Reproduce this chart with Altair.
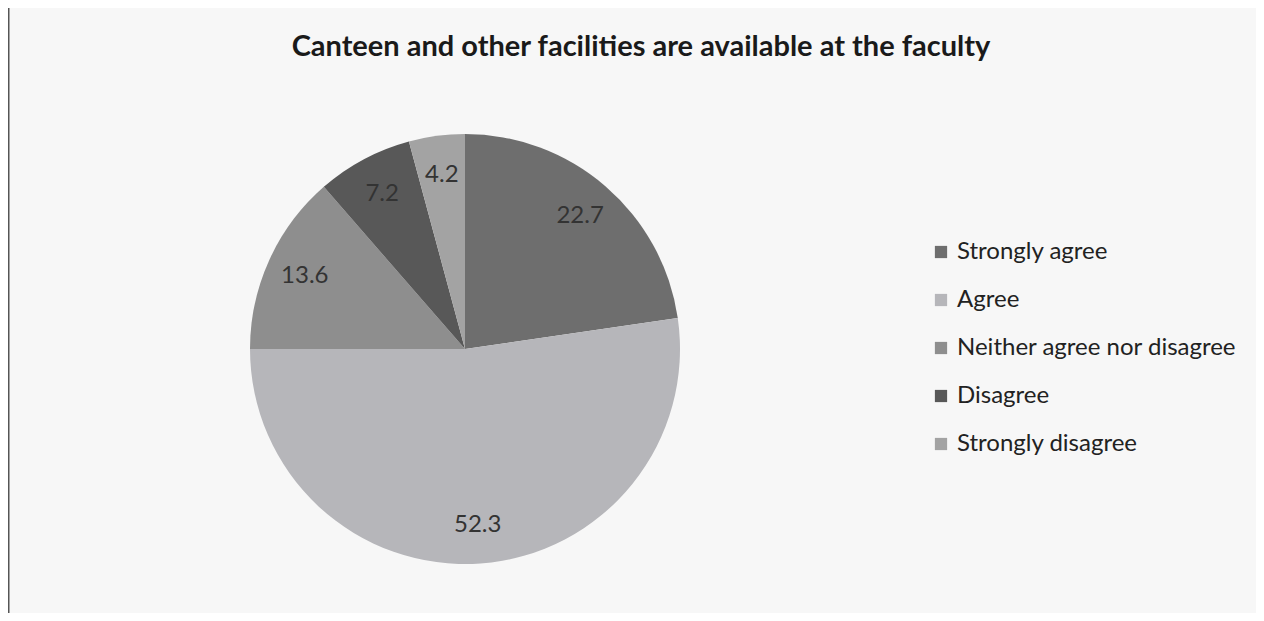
import altair as alt
import pandas as pd

categories = ["Strongly agree", "Agree", "Neither agree nor disagree", "Disagree", "Strongly disagree"]
values = [22.7, 52.3, 13.6, 7.2, 4.2]
colors = ["#6e6e6e", "#b6b6ba", "#8e8e8e", "#585858", "#a3a3a3"]
title_text = "Canteen and other facilities are available at the faculty"

df = pd.DataFrame({"category": categories, "value": values, "order": list(range(len(categories)))})
df["label"] = df["value"].map(lambda v: f"{v:.1f}")

CX, CY = 457, 341
FONT = "Lato"

base = alt.Chart(df).encode(
    theta=alt.Theta("value:Q", stack=True),
    order=alt.Order("order:Q"),
)

arcs = base.mark_arc(outerRadius=215).encode(
    color=alt.Color(
        "category:N",
        scale=alt.Scale(domain=categories, range=colors),
        sort=categories,
        legend=alt.Legend(
            title=None,
            orient="none",
            legendX=921,
            legendY=232,
            symbolType="square",
            symbolSize=150,
            symbolStrokeWidth=0,
            labelFontSize=24,
            labelFont=FONT,
            labelColor="#222222",
            rowPadding=24,
            labelOffset=4,
            labelLimit=400,
        ),
    ),
    x=alt.value(CX),
    y=alt.value(CY),
)

labels = base.mark_text(radius=176, fontSize=24, font=FONT, color="#333333").encode(
    text="label:N",
    x=alt.value(CX),
    y=alt.value(CY),
)

title_df = pd.DataFrame({"t": [title_text]})
title = alt.Chart(title_df).mark_text(
    fontSize=29, fontWeight="bold", font=FONT, color="#1a1a1a", align="center", baseline="middle"
).encode(text="t:N", x=alt.value(633), y=alt.value(39))

border = alt.Chart(title_df).mark_rule(color="#555555", strokeWidth=1.5).encode(
    x=alt.value(0.75), y=alt.value(0), y2=alt.value(605)
)

chart = alt.layer(arcs, labels, title, border).properties(
    width=1248, height=605,
    autosize=alt.AutoSizeParams(type="none"),
    padding=0,
    background="#f7f7f7",
).configure_view(stroke=None)

chart.save("out.html", embed_options={"renderer": "svg", "actions": False})
